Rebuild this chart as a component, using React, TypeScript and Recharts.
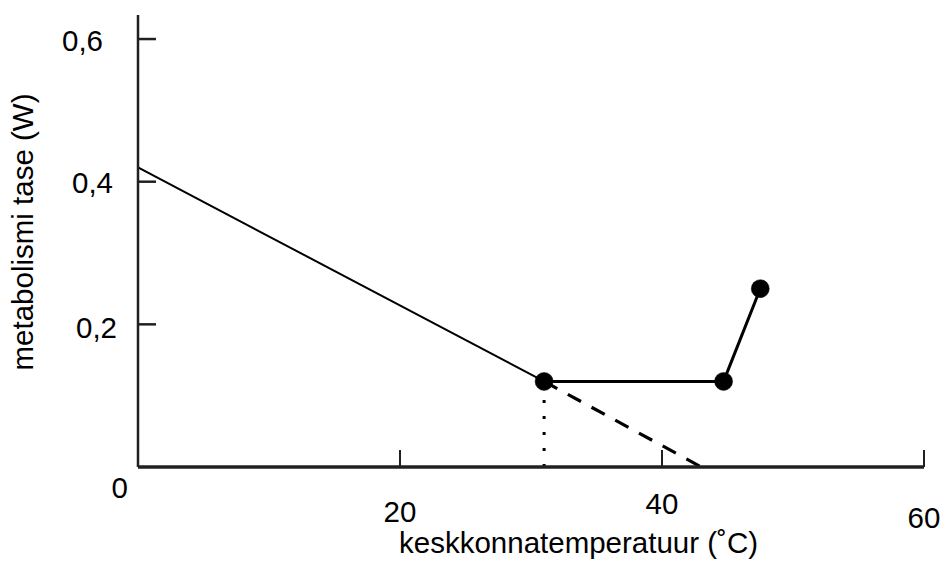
import React from 'react';
import { ComposedChart, Line, XAxis, YAxis } from 'recharts';

const xTicks = [0, 20, 40, 60];
const yTicks = [0, 0.2, 0.4, 0.6];
const yTickLabels = ['0', '0,2', '0,4', '0,6'];

const declineLine = [
  { x: 0, y: 0.42 },
  { x: 31, y: 0.12 },
];
const measuredPoints = [
  { x: 31, y: 0.12 },
  { x: 44.7, y: 0.12 },
  { x: 47.5, y: 0.25 },
];
const extrapolatedLine = [
  { x: 31, y: 0.12 },
  { x: 43, y: 0 },
];
const criticalTempLine = [
  { x: 31, y: 0 },
  { x: 31, y: 0.12 },
];

const INK = '#231f20';
const FONT = 'Liberation Sans, Arial, sans-serif';

const xLabelOffsets: Record<number, { dx: number; dy: number }> = {
  0: { dx: 0, dy: 0 },
  20: { dx: 0, dy: 44 },
  40: { dx: 0, dy: 36 },
  60: { dx: 0, dy: 50 },
};

const XTick = (props: any) => {
  const { x, y, payload } = props;
  const v = payload.value;
  if (v === 0) return <g />;
  const off = xLabelOffsets[v] || { dx: 0, dy: 40 };
  return (
    <g>
      <line x1={x} x2={x} y1={y} y2={y - 17} stroke={INK} strokeWidth={2} />
      <text
        x={x + off.dx}
        y={y + off.dy}
        textAnchor="middle"
        dominantBaseline="central"
        fontSize={29.5}
        fontFamily={FONT}
        fill="#000"
      >
        {v}
      </text>
    </g>
  );
};

const yLabelPos: Record<number, { right: number; dy: number }> = {
  0: { right: 10, dy: 20 },
  1: { right: 21, dy: 3 },
  2: { right: 25, dy: 1 },
  3: { right: 35, dy: 1 },
};

const YTick = (props: any) => {
  const { x, y, index } = props;
  const pos = yLabelPos[index] || { right: 25, dy: 0 };
  return (
    <g>
      {index !== 0 && (
        <line x1={x} x2={x + 18} y1={y} y2={y} stroke={INK} strokeWidth={2.5} />
      )}
      <text
        x={x - pos.right}
        y={y + pos.dy}
        textAnchor="end"
        dominantBaseline="central"
        fontSize={29.5}
        fontFamily={FONT}
        fill="#000"
      >
        {yTickLabels[index]}
      </text>
    </g>
  );
};

export default function App() {
  return (
    <div style={{ position: 'absolute', left: 0, top: 0, width: 944, height: 563, background: '#fff' }}>
      <ComposedChart
        width={944}
        height={563}
        margin={{ top: 15, right: 20, bottom: 95, left: 137 }}
      >
        <XAxis
          type="number"
          dataKey="x"
          domain={[0, 60]}
          ticks={xTicks}
          interval={0}
          tickSize={0}
          tickMargin={0}
          height={1}
          axisLine={{ stroke: INK, strokeWidth: 3.5 }}
          tickLine={false}
          tick={<XTick />}
          allowDataOverflow
        />
        <YAxis
          type="number"
          dataKey="y"
          domain={[0, 0.6337]}
          ticks={yTicks}
          interval={0}
          tickSize={0}
          tickMargin={0}
          width={1}
          axisLine={{ stroke: INK, strokeWidth: 2.5 }}
          tickLine={false}
          tick={<YTick />}
          allowDataOverflow
        />
        <Line
          data={declineLine}
          dataKey="y"
          type="linear"
          stroke="#000"
          strokeWidth={2}
          dot={false}
          activeDot={false}
          isAnimationActive={false}
        />
        <Line
          data={extrapolatedLine}
          dataKey="y"
          type="linear"
          stroke="#000"
          strokeWidth={3.2}
          strokeDasharray="15 12"
          dot={false}
          activeDot={false}
          isAnimationActive={false}
        />
        <Line
          data={criticalTempLine}
          dataKey="y"
          type="linear"
          stroke="#000"
          strokeWidth={3}
          strokeDasharray="3 13"
          dot={false}
          activeDot={false}
          isAnimationActive={false}
        />
        <Line
          data={measuredPoints}
          dataKey="y"
          type="linear"
          stroke="#000"
          strokeWidth={3}
          dot={{ r: 9, fill: '#000', stroke: '#000', strokeWidth: 0.5 }}
          activeDot={false}
          isAnimationActive={false}
        />
        <text
          x={399}
          y={553}
          textAnchor="start"
          fontSize={29.5}
          fontFamily={FONT}
          fill="#000"
        >
          keskkonnatemperatuur (˚C)
        </text>
        <text
          x={22}
          y={232}
          textAnchor="middle"
          dominantBaseline="central"
          transform="rotate(-90 22 232)"
          fontSize={29.5}
          fontFamily={FONT}
          fill="#000"
        >
          metabolismi tase (W)
        </text>
      </ComposedChart>
    </div>
  );
}
